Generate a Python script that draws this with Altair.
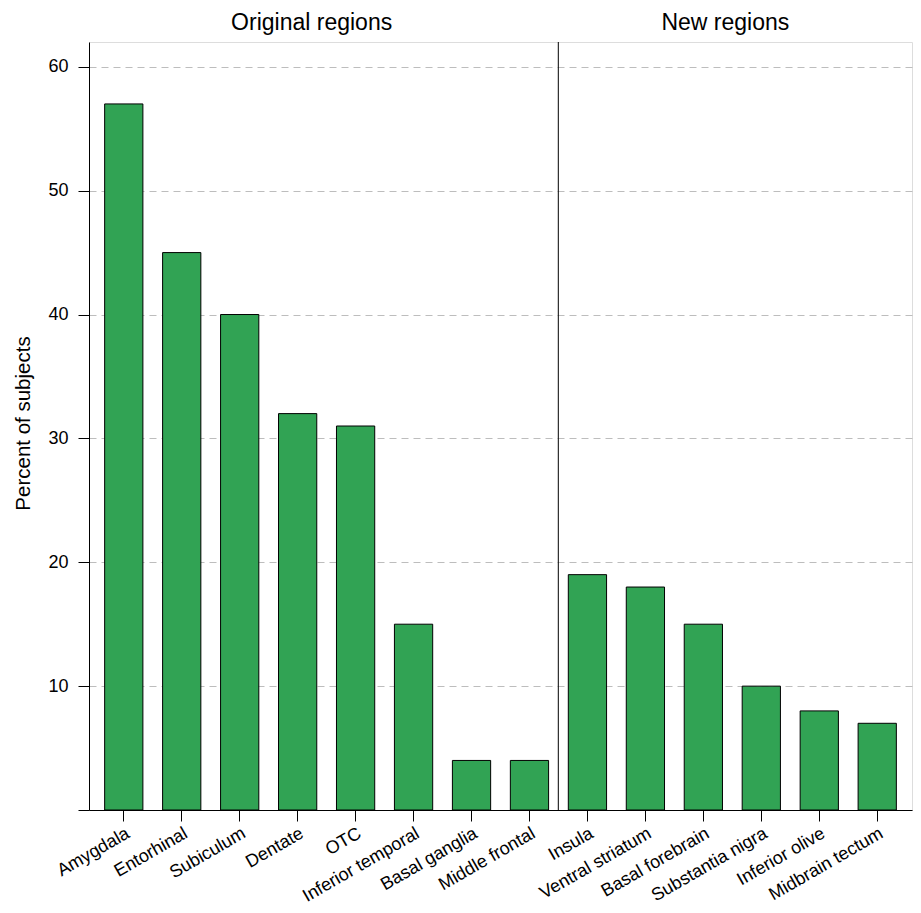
import altair as alt
import pandas as pd

regions = ["Amygdala", "Entorhinal", "Subiculum", "Dentate", "OTC", "Inferior temporal",
           "Basal ganglia", "Middle frontal", "Insula", "Ventral striatum", "Basal forebrain",
           "Substantia nigra", "Inferior olive", "Midbrain tectum"]
percent = [57, 45, 40, 32, 31, 15, 4, 4, 19, 18, 15, 10, 8, 7]
group = ["Original regions"] * 8 + ["New regions"] * 6

y_ticks = [0, 10, 20, 30, 40, 50, 60]

headers = ["Original regions", "New regions"]
header_anchor = ["Dentate", "Basal forebrain"]
header_shift = [14, 22]

df = pd.DataFrame({"region": regions, "percent": percent, "group": group})
div = pd.DataFrame({"region": ["Insula"]})

W, H = 823, 768

xscale = alt.Scale(domain=regions, paddingInner=0.34, paddingOuter=0.27)
yscale = alt.Scale(domain=[0, 62], nice=False)

FONT = "Liberation Sans"

bars = alt.Chart(df).mark_bar(color="#31A354", stroke="black", strokeWidth=1).encode(
    x=alt.X("region:N", sort=regions, scale=xscale,
            axis=alt.Axis(title=None, labelAngle=-30, labelFontSize=18, labelColor="black",
                          tickSize=11, tickColor="black", domainColor="black",
                          labelPadding=3, labelFont=FONT)),
    y=alt.Y("percent:Q", scale=yscale,
            axis=alt.Axis(title="Percent of subjects", values=y_ticks,
                          labelExpr="datum.value == 0 ? '' : datum.label",
                          labelFontSize=18, labelColor="black", tickSize=11, tickColor="black",
                          domainColor="black", labelPadding=10, labelFont=FONT,
                          titleFontSize=20.5, titleFont=FONT, titleFontWeight="normal",
                          titleColor="black", titleX=-56, titleY=381,
                          grid=True, gridDash=[7, 5], gridColor="#bdbdbd", gridWidth=1)),
)

divider = alt.Chart(div).mark_rule(color="black", strokeWidth=1, xOffset=-10).encode(
    x=alt.X("region:N", scale=xscale, bandPosition=0),
    y=alt.value(0), y2=alt.value(H),
)

layers = [bars, divider]
for lab, anc, sh in zip(headers, header_anchor, header_shift):
    hdf = pd.DataFrame({"label": [lab], "anchor": [anc]})
    layers.append(
        alt.Chart(hdf).mark_text(fontSize=23, font=FONT, color="black",
                                 baseline="middle", align="center", dx=sh)
        .encode(x=alt.X("anchor:N", scale=xscale), y=alt.value(-19), text="label:N")
    )

chart = alt.layer(*layers).properties(
    width=W, height=H,
    autosize=alt.AutoSizeParams(type="none"),
    padding={"left": 81, "top": 34, "right": 1, "bottom": 100},
).configure_view(stroke="black", strokeWidth=1).configure(background="white")

chart.save("out.html", embed_options={"renderer": "svg", "actions": False})
